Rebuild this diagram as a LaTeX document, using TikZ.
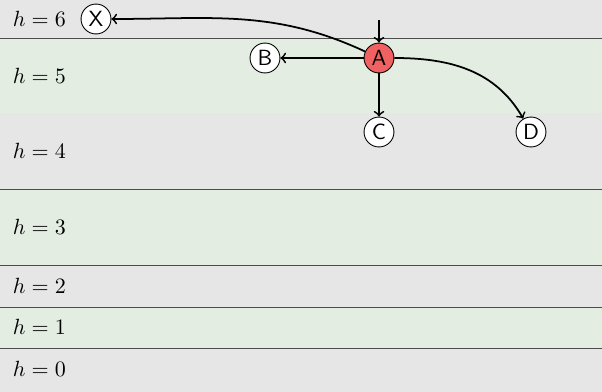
\documentclass[tikz,border=0pt]{standalone}
\definecolor{bandgray}{RGB}{230,230,230}
\definecolor{bandgreen}{RGB}{227,237,226}
\definecolor{vertred}{RGB}{240,98,98}
\tikzset{
  vert/.style={circle,draw,fill=white,minimum size=13.6pt,inner sep=0pt,font=\sffamily},
  level/.style={draw=black!70,line width=0.45pt},
  edge/.style={->,thick}
}
\begin{document}
\begin{tikzpicture}[x=0.4545pt,y=0.4545pt]
      \useasboundingbox (0,0) rectangle (602,392);
      % height bands
      \foreach \lo/\hi/\col in {0/44/bandgray,44/85/bandgreen,85/127/bandgray,
                                127/203/bandgreen,203/279/bandgray,
                                279/354/bandgreen,354/392/bandgray}
        \fill[\col] (0,\lo) rectangle (602,\hi);
      \foreach \y in {44,85,127,203,354}
        \draw[level] (0,\y) -- (602,\y);
      \foreach \h/\y in {0/23,1/65,2/106,3/165,4/241,5/316,6/373}
        \node[anchor=west,inner sep=0pt] (h\h) at (12.5,\y) {$h=\h$};
      % vertices
      \node[vert,fill=vertred] (A) at (379,334) {A};
      \node[vert] (X) at (96,373) {X};
      \node[vert] (B) at (265,334) {B};
      \node[vert] (C) at (379,260) {C};
      \node[vert] (D) at (531,260) {D};
      \coordinate (in) at (379,372);
      \draw[edge] (in) -- (A);
      \draw[edge] (A) -- (B);
      \draw[edge] (A) -- (C);
      \draw[edge] (A) to[out=155,in=0] (X);
      \draw[edge] (A) to[out=0,in=120] (D);
    \end{tikzpicture}
\end{document}
